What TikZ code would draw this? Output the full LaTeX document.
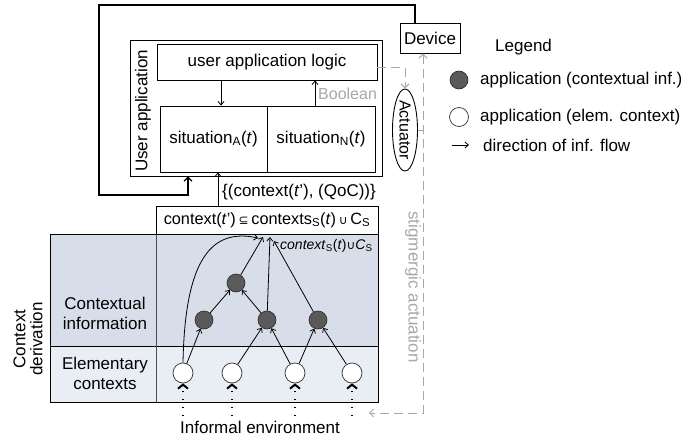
\documentclass[tikz,border=0pt]{standalone}
\usepackage{fontspec}
\setmainfont{Liberation Sans}
\newfontfamily\symfont{DejaVu Sans}
\usetikzlibrary{arrows.meta,shapes.geometric}

\definecolor{ctxblue}{HTML}{D7DEEA}
\definecolor{elemblue}{HTML}{E9EDF4}
\definecolor{nodegray}{HTML}{5A5A5A}
\definecolor{dashgray}{HTML}{A8A8A8}

\newcommand{\sym}[1]{{\symfont\fontsize{12}{14}\selectfont #1}}

\tikzset{gtip/.tip={Straight Barb[length=4pt,width=8pt]}}

\begin{document}
\begin{tikzpicture}[x=1pt,y=-1pt,
  every node/.style={font=\fontsize{17}{20}\selectfont},
  box/.style={draw, line width=0.9pt, rectangle, inner sep=0pt},
  lbl/.style={inner sep=0pt},
  ctxnode/.style={circle, draw=black!85, line width=0.6pt, fill=nodegray, minimum size=18pt, inner sep=0pt},
  elemnode/.style={circle, draw=black!80, line width=0.7pt, fill=white, minimum size=20pt, inner sep=0pt},
  flow/.style={-{Straight Barb[length=3.5pt,width=6pt]}, line width=0.8pt},
  loopline/.style={-{Straight Barb[length=4pt,width=8pt]}, line width=1.1pt},
  gdash/.style={dashgray, dash pattern=on 9pt off 5pt, line width=1pt},
  envflow/.style={line width=1.5pt, dash pattern=on 1.5pt off 6.5pt,
    -{Straight Barb[length=4pt,width=10pt,line width=2pt]}}
]
\useasboundingbox (0,0) rectangle (686,436);

% ---------- context derivation area ----------
\fill[ctxblue] (50,234) rectangle (378,346);
\fill[elemblue] (50,346) rectangle (378,402);
\draw[line width=0.9pt] (50,234) rectangle (378,402);
\draw[line width=0.9pt] (50,346) -- (378,346);
\draw[line width=0.7pt, black!70] (156,234) -- (156,402);

\node[lbl, align=center] (ctxinfo) at (105,313) {Contextual\\information};
\node[lbl, align=center] (elemctx) at (105,373) {Elementary\\contexts};
\node[lbl, align=center, rotate=90, font=\fontsize{17}{17}\selectfont] (deriv) at (28,339) {Context\\derivation};

% ---------- user application ----------
\node[box, minimum width=252pt, minimum height=136pt] (ua) at (256,108) {};
\node[lbl, rotate=90] (ualabel) at (143,111) {User application};
\node[box, minimum width=220pt, minimum height=36pt] (logic) at (267,62) {user application logic};
\node[box, minimum width=107pt, minimum height=66pt] (sitA) at (213.5,139) {situation\textsubscript{A}(\textit{t})};
\node[box, minimum width=108pt, minimum height=66pt] (sitN) at (321,139) {situation\textsubscript{N}(\textit{t})};

\node[box, minimum width=60pt, minimum height=30pt] (device) at (430,38) {Device};
\node[ellipse, draw, line width=0.9pt, minimum width=25pt, minimum height=82pt, inner sep=0pt,
      label={[rotate=-90, font=\fontsize{16}{18}\selectfont]center:Actuator}] (actuator) at (405,130) {};

\node[box, minimum width=222pt, minimum height=28pt, font=\fontsize{16.3}{19}\selectfont] (ctx) at (267,220)
  {context(\textit{t}')\,\sym{⊆}\,contexts\textsubscript{S}(\textit{t})\,\sym{∪}\,C\textsubscript{S}\hspace{6pt}};
\node[lbl, anchor=west] (qoc) at (222,192) {\{(context(\textit{t}'), (QoC))\}};
\node[lbl, anchor=west, text=dashgray, font=\fontsize{16}{18}\selectfont] (bool) at (318,94) {Boolean};

% helper abscissae
\coordinate (xa) at (221,0);
\coordinate (xb) at (315,0);
\coordinate (xloop) at (188,0);
\coordinate (xin) at (218,0);
\coordinate (xdev) at (415,0);
\coordinate (xact) at (405,0);
\coordinate (xstg) at (423,0);
\coordinate (yd) at (0,68);
\coordinate (lp1) at (99,5);
\coordinate (lp2) at (99,195);
\coordinate (envarr) at (369,413);

% connectors of the application part
\draw[flow] (logic.south -| xa) -- (sitA.north -| xa);
\draw[flow] (sitN.north -| xb) -- (logic.south -| xb);
\draw[flow] (ctx.north -| xin) -- (sitA.south -| xin);
\draw[loopline] (device.north -| xdev) |- (lp1) -- (lp2) -| (ua.south -| xloop);

% actuation paths
\draw[gdash, -{gtip}] (logic.east |- yd) -| (actuator.north);
\draw[dashgray, line width=1pt] (actuator.east) -- (actuator.east -| xstg);
\draw[gdash, {gtip}-{gtip}] (device.south -| xstg) -- (xstg |- envarr) -- (envarr);
\node[lbl, rotate=-90, text=dashgray] (stig) at (413,287) {stigmergic actuation};

% ---------- derivation graph ----------
\node[ctxnode] (g1) at (236,283) {};
\node[ctxnode] (g2) at (204,320) {};
\node[ctxnode] (g3) at (267,320) {};
\node[ctxnode] (g4) at (318,320) {};
\node[elemnode] (w1) at (183,373) {};
\node[elemnode] (w2) at (232,373) {};
\node[elemnode] (w3) at (295,373) {};
\node[elemnode] (w4) at (352,373) {};

\coordinate (c1) at (258,238);
\coordinate (c2) at (263,237);
\coordinate (c3) at (270,237);
\coordinate (c4) at (274,241);

\draw[flow] (w1) -- (g2);
\draw[flow] (w2) -- (g3);
\draw[flow] (w3) -- (g3);
\draw[flow] (w3) -- (g4);
\draw[flow] (w4) -- (g4);
\draw[flow] (g2) -- (g1);
\draw[flow] (g3) -- (g1);
\draw[flow] (g1) -- (c2);
\draw[flow] (g3) -- (c3);
\draw[flow] (g4) -- (c4);
\draw[flow] (w1.north) .. controls (185,258) and (212,228) .. (c1);

\node[lbl, anchor=west, font=\fontsize{14}{16}\selectfont] (unionlbl) at (280,246)
  {\textit{context}\textsubscript{S}(\textit{t})\sym{∪}\textit{C}\textsubscript{S}};

% informal environment
\coordinate (d1) at (183,416);
\coordinate (d2) at (232,416);
\coordinate (d3) at (295,416);
\coordinate (d4) at (352,416);
\draw[envflow] (d1) -- (w1);
\draw[envflow] (d2) -- (w2);
\draw[envflow] (d3) -- (w3);
\draw[envflow] (d4) -- (w4);
\node[lbl] (env) at (260,427) {Informal environment};

% ---------- legend ----------
\node[lbl, anchor=west] (legend) at (495,47) {Legend};
\node[ctxnode] (lg1) at (459,80) {};
\node[lbl, anchor=west] (lt1) at (480,80) {application (contextual inf.)};
\node[elemnode, minimum size=19pt] (lg2) at (459,117) {};
\node[lbl, anchor=west] (lt2) at (480,117) {application (elem. context)};
\coordinate (la1) at (452,145);
\coordinate (la2) at (469,145);
\draw[flow] (la1) -- (la2);
\node[lbl, anchor=west] (lt3) at (483,145) {direction of inf. flow};
\end{tikzpicture}
\end{document}
